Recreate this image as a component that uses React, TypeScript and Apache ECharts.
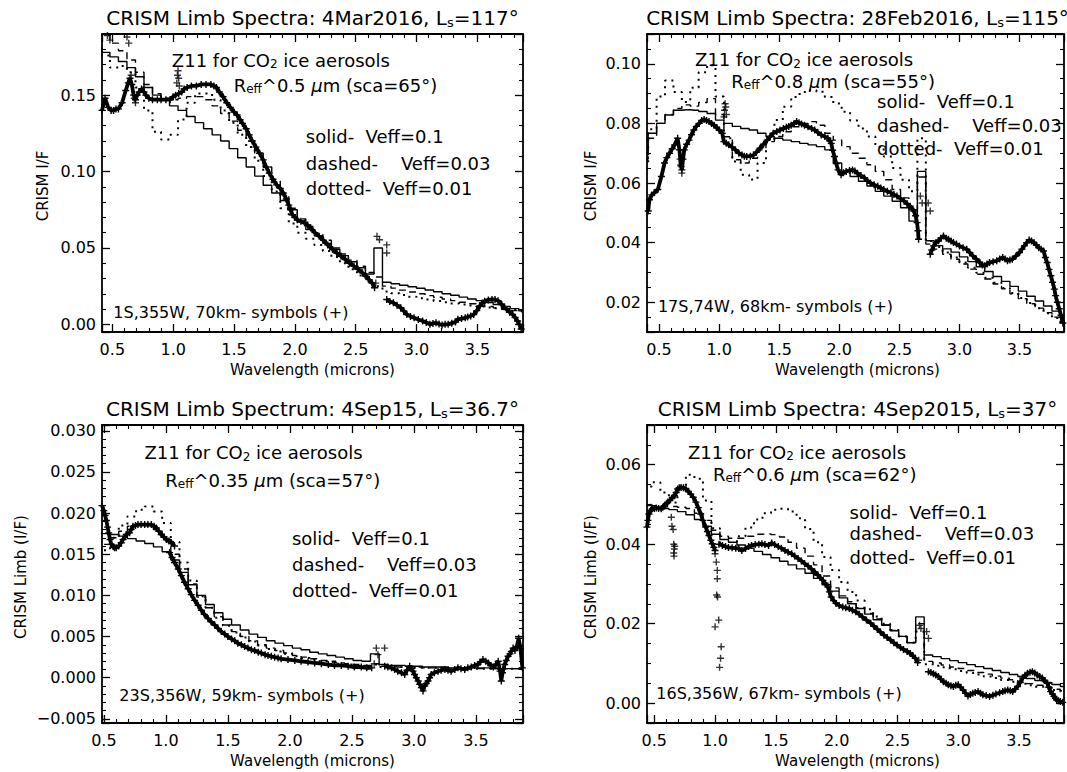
import React, { useEffect, useRef } from 'react';
import * as echarts from 'echarts';

const FONT = '"DejaVu Sans", sans-serif';
const PLUS = 'path://M4,0H6V4H10V6H6V10H4V6H0V4H4Z';

// Model wavelength grid (microns), shared by all model curves
const modelWl = [0.375, 0.445, 0.515, 0.585, 0.655, 0.725, 0.795, 0.865, 0.935, 1.005, 1.075, 1.145, 1.215, 1.285, 1.355, 1.425, 1.495, 1.565, 1.635, 1.705, 1.775, 1.845, 1.915, 1.985, 2.055, 2.125, 2.195, 2.265, 2.335, 2.405, 2.475, 2.545, 2.615, 2.685, 2.755, 2.825, 2.895, 2.965, 3.035, 3.105, 3.175, 3.245, 3.315, 3.385, 3.455, 3.525, 3.595, 3.665, 3.735, 3.805, 3.875];

// ---------- Panel 1: 4Mar2016 ----------
const p1Solid = [0.180, 0.178, 0.175, 0.172, 0.168, 0.162, 0.155, 0.150, 0.147, 0.143, 0.140, 0.136, 0.132, 0.128, 0.124, 0.120, 0.115, 0.109, 0.103, 0.097, 0.091, 0.086, 0.081, 0.075, 0.067, 0.062, 0.058, 0.053, 0.049, 0.045, 0.041, 0.037, 0.033, 0.050, 0.0276, 0.0266, 0.0256, 0.0246, 0.0236, 0.0225, 0.0213, 0.0200, 0.0190, 0.0178, 0.0166, 0.0155, 0.0143, 0.0130, 0.0117, 0.0103, 0.0088];
const p1Dashed = [0.190, 0.189, 0.184, 0.179, 0.173, 0.165, 0.157, 0.151, 0.148, 0.147, 0.148, 0.149, 0.149, 0.147, 0.143, 0.138, 0.133, 0.127, 0.120, 0.112, 0.103, 0.094, 0.085, 0.076, 0.069, 0.064, 0.059, 0.055, 0.050, 0.046, 0.042, 0.038, 0.034, 0.031, 0.0250, 0.0237, 0.0224, 0.0212, 0.0200, 0.0188, 0.0177, 0.0166, 0.0155, 0.0145, 0.0135, 0.0126, 0.0117, 0.0108, 0.0099, 0.0090, 0.0082];
const p1Dotted = [0.183, 0.176, 0.168, 0.169, 0.165, 0.155, 0.140, 0.126, 0.121, 0.124, 0.134, 0.145, 0.151, 0.151, 0.147, 0.140, 0.132, 0.124, 0.116, 0.107, 0.097, 0.087, 0.076, 0.066, 0.060, 0.056, 0.052, 0.048, 0.044, 0.040, 0.036, 0.032, 0.028, 0.025, 0.0215, 0.0203, 0.0192, 0.0181, 0.0171, 0.0162, 0.0153, 0.0145, 0.0137, 0.0130, 0.0123, 0.0117, 0.0111, 0.0105, 0.0100, 0.0095, 0.0090];
const p1ObsA = [[0.415,0.140],[0.44,0.148],[0.466,0.142],[0.49,0.140],[0.51,0.140],[0.53,0.141],[0.55,0.141],[0.58,0.145],[0.61,0.153],[0.63,0.158],[0.645,0.161],[0.66,0.157],[0.675,0.150],[0.69,0.147],[0.705,0.150],[0.72,0.152],[0.74,0.154],[0.76,0.152],[0.775,0.150],[0.80,0.148],[0.83,0.147],[0.87,0.147],[0.90,0.147],[0.94,0.147],[0.975,0.147],[1.00,0.149],[1.02,0.150],[1.045,0.151],[1.07,0.152],[1.09,0.154],[1.115,0.155],[1.15,0.156],[1.19,0.156],[1.23,0.157],[1.27,0.157],[1.31,0.157],[1.335,0.156],[1.355,0.155],[1.38,0.152],[1.41,0.149],[1.44,0.145],[1.47,0.142],[1.50,0.139],[1.525,0.137],[1.55,0.134],[1.57,0.1315],[1.60,0.128],[1.625,0.124],[1.65,0.120],[1.68,0.116],[1.71,0.112],[1.74,0.1076],[1.765,0.103],[1.79,0.099],[1.82,0.095],[1.85,0.0913],[1.88,0.089],[1.905,0.086],[1.93,0.082],[1.95,0.078],[1.965,0.075],[1.98,0.0717],[2.0,0.070],[2.02,0.0685],[2.05,0.0675],[2.08,0.0663],[2.105,0.065],[2.13,0.063],[2.165,0.060],[2.20,0.0576],[2.235,0.055],[2.27,0.052],[2.31,0.049],[2.345,0.0467],[2.38,0.0445],[2.415,0.0424],[2.45,0.040],[2.486,0.038],[2.52,0.036],[2.556,0.0337],[2.585,0.0315],[2.61,0.0293],[2.635,0.027],[2.655,0.024]];
const p1ObsB = [[2.755,0.0163],[2.78,0.015],[2.81,0.0141],[2.84,0.0125],[2.87,0.0109],[2.895,0.0087],[2.92,0.0065],[2.95,0.0052],[2.98,0.0043],[3.015,0.0032],[3.05,0.0022],[3.08,0.0012],[3.11,0.0],[3.135,0.0006],[3.16,0.001],[3.185,0.0002],[3.21,-0.0004],[3.235,0.0],[3.26,0.0],[3.29,0.0008],[3.32,0.0015],[3.34,0.0033],[3.37,0.0038],[3.40,0.0043],[3.42,0.0048],[3.445,0.0055],[3.47,0.0065],[3.495,0.009],[3.52,0.012],[3.54,0.014],[3.56,0.0152],[3.59,0.016],[3.62,0.0163],[3.645,0.0162],[3.67,0.0155],[3.70,0.013],[3.72,0.0115],[3.74,0.0098],[3.765,0.008],[3.79,0.0065],[3.81,0.0045],[3.83,0.0022],[3.845,0.0],[3.86,-0.003]];
const p1Spikes = [[0.46,0.189],[0.48,0.186],[0.62,0.188],[0.635,0.184],[0.655,0.163],[0.68,0.148],[0.69,0.145],[1.03,0.158],[1.035,0.163],[1.04,0.166],[1.045,0.161],[1.05,0.156],[2.665,0.027],[2.675,0.0576],[2.695,0.0554],[2.755,0.052],[2.755,0.0467]];

// ---------- Panel 2: 28Feb2016 ----------
const p2Solid = [0.070, 0.0767, 0.080, 0.0828, 0.0844, 0.0846, 0.0844, 0.084, 0.0833, 0.0811, 0.080, 0.079, 0.0783, 0.0778, 0.0767, 0.0756, 0.075, 0.0744, 0.0739, 0.0733, 0.0728, 0.0722, 0.0711, 0.0667, 0.0639, 0.0622, 0.0606, 0.059, 0.0572, 0.0556, 0.0539, 0.0517, 0.0472, 0.0639, 0.0406, 0.039, 0.0379, 0.0368, 0.0352, 0.0336, 0.0319, 0.0303, 0.0286, 0.027, 0.0253, 0.0237, 0.022, 0.0204, 0.0187, 0.017, 0.0154];
const p2Dashed = [0.068, 0.075, 0.080, 0.083, 0.085, 0.0862, 0.0858, 0.087, 0.0883, 0.083, 0.0755, 0.0678, 0.0667, 0.0683, 0.0711, 0.0739, 0.0756, 0.0772, 0.0789, 0.080, 0.0806, 0.0794, 0.0767, 0.0744, 0.0722, 0.070, 0.0683, 0.0661, 0.0639, 0.0611, 0.0578, 0.055, 0.051, 0.062, 0.0395, 0.0378, 0.0361, 0.0344, 0.0328, 0.0311, 0.0294, 0.0278, 0.0261, 0.0245, 0.0228, 0.0212, 0.0195, 0.018, 0.0165, 0.015, 0.0138];
const p2Dotted = [0.066, 0.078, 0.089, 0.0944, 0.0905, 0.0872, 0.092, 0.0972, 0.0995, 0.089, 0.075, 0.0672, 0.0628, 0.0612, 0.0667, 0.0744, 0.0811, 0.0856, 0.0889, 0.0905, 0.0911, 0.0906, 0.0889, 0.0867, 0.0839, 0.081, 0.0783, 0.0756, 0.0722, 0.0689, 0.065, 0.0611, 0.0572, 0.075, 0.0405, 0.0385, 0.0367, 0.035, 0.0333, 0.0316, 0.0299, 0.0282, 0.0265, 0.0248, 0.0231, 0.0214, 0.0197, 0.018, 0.0163, 0.0147, 0.0132];
const p2ObsA = [[0.41,0.0506],[0.42,0.0544],[0.44,0.056],[0.46,0.0567],[0.49,0.0578],[0.52,0.0622],[0.546,0.0667],[0.565,0.0685],[0.587,0.070],[0.61,0.0715],[0.63,0.0728],[0.655,0.075],[0.67,0.0711],[0.68,0.066],[0.69,0.0644],[0.70,0.068],[0.71,0.0711],[0.73,0.073],[0.75,0.0744],[0.77,0.0762],[0.79,0.0778],[0.81,0.079],[0.834,0.080],[0.855,0.081],[0.875,0.0813],[0.895,0.081],[0.916,0.0806],[0.937,0.080],[0.958,0.0794],[0.98,0.0786],[1.0,0.0778],[1.026,0.0767],[1.04,0.0739],[1.06,0.0733],[1.08,0.0728],[1.11,0.072],[1.136,0.0711],[1.165,0.070],[1.19,0.0694],[1.21,0.069],[1.23,0.0689],[1.26,0.069],[1.287,0.0694],[1.31,0.0703],[1.34,0.0717],[1.37,0.073],[1.40,0.0744],[1.425,0.0756],[1.45,0.0767],[1.48,0.0773],[1.507,0.0778],[1.535,0.0783],[1.56,0.0787],[1.58,0.079],[1.60,0.0794],[1.625,0.080],[1.645,0.0806],[1.665,0.0802],[1.686,0.0798],[1.71,0.0794],[1.74,0.0789],[1.77,0.0783],[1.795,0.0778],[1.82,0.077],[1.85,0.0761],[1.88,0.0756],[1.905,0.075],[1.92,0.0742],[1.933,0.0733],[1.945,0.071],[1.96,0.0689],[1.975,0.0665],[1.99,0.0644],[2.015,0.0628],[2.035,0.0634],[2.057,0.0639],[2.085,0.0642],[2.11,0.0644],[2.13,0.064],[2.15,0.0633],[2.18,0.0625],[2.21,0.0617],[2.235,0.0608],[2.26,0.060],[2.29,0.0594],[2.32,0.0589],[2.345,0.0583],[2.37,0.0578],[2.40,0.0572],[2.43,0.0567],[2.455,0.0561],[2.48,0.0556],[2.51,0.0548],[2.54,0.0539],[2.565,0.053],[2.59,0.0522],[2.62,0.0506],[2.635,0.049],[2.647,0.0467],[2.655,0.044],[2.66,0.0411]];
const p2ObsB = [[2.757,0.0361],[2.77,0.0375],[2.785,0.0389],[2.805,0.040],[2.826,0.0406],[2.845,0.0415],[2.867,0.0422],[2.89,0.0415],[2.908,0.0411],[2.93,0.0405],[2.95,0.040],[2.975,0.0395],[3.0,0.0389],[3.03,0.0383],[3.06,0.0378],[3.085,0.0367],[3.11,0.0356],[3.14,0.0345],[3.17,0.0333],[3.19,0.0325],[3.21,0.0322],[3.23,0.0328],[3.25,0.0333],[3.28,0.0336],[3.31,0.0339],[3.335,0.0345],[3.36,0.035],[3.38,0.0345],[3.40,0.0339],[3.42,0.0342],[3.44,0.0344],[3.47,0.0355],[3.50,0.0367],[3.52,0.0378],[3.54,0.0389],[3.56,0.040],[3.58,0.0409],[3.60,0.0405],[3.62,0.040],[3.64,0.0392],[3.66,0.0383],[3.68,0.0378],[3.70,0.0372],[3.715,0.035],[3.73,0.0333],[3.745,0.031],[3.76,0.0289],[3.775,0.0267],[3.79,0.0244],[3.80,0.0222],[3.815,0.020],[3.83,0.0178],[3.845,0.0156],[3.86,0.013]];
const p2Spikes = [[1.04,0.0822],[1.045,0.0844],[1.05,0.0866],[1.055,0.0855],[1.06,0.083],[0.675,0.068],[0.685,0.0655],[0.69,0.0633],[2.675,0.0556],[2.69,0.0533],[2.74,0.0533],[2.757,0.0506]];

// ---------- Panel 3: 4Sep15 ----------
const p3Solid = [0.0176, 0.0176, 0.0175, 0.0174, 0.0172, 0.0169, 0.0166, 0.0163, 0.0159, 0.0153, 0.0143, 0.0128, 0.0113, 0.0100, 0.0089, 0.0079, 0.0071, 0.0064, 0.0058, 0.0053, 0.0049, 0.0045, 0.0042, 0.0039, 0.0036, 0.0034, 0.0031, 0.0029, 0.0027, 0.0025, 0.0023, 0.0021, 0.0020, 0.0029, 0.0016, 0.0015, 0.0015, 0.0014, 0.0014, 0.0013, 0.0013, 0.0013, 0.0012, 0.0012, 0.0012, 0.0012, 0.0012, 0.0011, 0.0011, 0.0011, 0.0011];
const p3Dashed = [0.0152, 0.0155, 0.0162, 0.017, 0.0178, 0.0184, 0.0186, 0.0185, 0.018, 0.0168, 0.015, 0.0132, 0.0114, 0.0098, 0.0085, 0.0074, 0.0064, 0.0056, 0.005, 0.0045, 0.004, 0.0036, 0.0033, 0.003, 0.0027, 0.0025, 0.0023, 0.0021, 0.002, 0.0018, 0.0017, 0.0016, 0.0015, 0.0017, 0.0014, 0.0014, 0.0013, 0.0013, 0.0013, 0.0012, 0.0012, 0.0012, 0.0012, 0.0012, 0.0011, 0.0011, 0.0011, 0.0011, 0.0011, 0.0011, 0.0011];
const p3Dotted = [0.014, 0.0145, 0.0155, 0.017, 0.0185, 0.0196, 0.0204, 0.0208, 0.0202, 0.0188, 0.0165, 0.014, 0.0118, 0.0099, 0.0085, 0.0073, 0.0063, 0.0055, 0.0049, 0.0044, 0.0039, 0.0035, 0.0032, 0.0029, 0.0026, 0.0024, 0.0022, 0.002, 0.0019, 0.0017, 0.0016, 0.0015, 0.0014, 0.0016, 0.0013, 0.0013, 0.0013, 0.0012, 0.0012, 0.0012, 0.0012, 0.0012, 0.0011, 0.0011, 0.0011, 0.0011, 0.0011, 0.0011, 0.0011, 0.0011, 0.0011];
const p3ObsA = [[0.485,0.0209],[0.50,0.0203],[0.51,0.0197],[0.52,0.0191],[0.53,0.0183],[0.539,0.0176],[0.55,0.0168],[0.56,0.0162],[0.575,0.0159],[0.587,0.0158],[0.60,0.0158],[0.62,0.016],[0.64,0.0164],[0.655,0.0168],[0.68,0.0174],[0.708,0.0176],[0.72,0.018],[0.735,0.0184],[0.755,0.0185],[0.775,0.0186],[0.80,0.0186],[0.829,0.0186],[0.855,0.0186],[0.883,0.0186],[0.905,0.0184],[0.923,0.0182],[0.943,0.0178],[0.963,0.0174],[0.985,0.0171],[1.004,0.0168],[1.025,0.0166],[1.044,0.0164],[1.07,0.016]];
const p3ObsB = [[1.03,0.0152],[1.05,0.0146],[1.07,0.014],[1.10,0.0132],[1.125,0.0124],[1.15,0.0116],[1.18,0.0108],[1.205,0.0101],[1.232,0.0094],[1.26,0.0088],[1.286,0.0082],[1.31,0.0077],[1.34,0.0072],[1.365,0.0068],[1.394,0.0064],[1.42,0.006],[1.447,0.0056],[1.475,0.0053],[1.50,0.005],[1.53,0.0047],[1.555,0.0045],[1.58,0.0042],[1.609,0.004],[1.635,0.0038],[1.662,0.0036],[1.69,0.0034],[1.716,0.0033],[1.745,0.0031],[1.77,0.003],[1.80,0.0028],[1.824,0.0027],[1.85,0.0026],[1.877,0.0025],[1.905,0.0024],[1.93,0.0023],[1.985,0.0022],[2.04,0.0021],[2.09,0.002],[2.146,0.0019],[2.20,0.0018],[2.254,0.0017],[2.31,0.0016],[2.36,0.0015],[2.415,0.0015],[2.47,0.0014],[2.52,0.0013],[2.576,0.0013],[2.62,0.0012],[2.66,0.0012]];
const p3ObsC = [[2.765,0.0014],[2.79,0.0013],[2.82,0.0012],[2.845,0.001],[2.87,0.0008],[2.90,0.0006],[2.926,0.0004],[2.945,0.0009],[2.966,0.0014],[2.98,0.0011],[2.993,0.0008],[3.005,0.0004],[3.02,0.0],[3.035,-0.0004],[3.047,-0.0008],[3.06,-0.0012],[3.074,-0.0016],[3.087,-0.001],[3.10,-0.0007],[3.114,-0.0004],[3.127,0.0],[3.14,0.0004],[3.165,0.0006],[3.195,0.0008],[3.22,0.0009],[3.25,0.001],[3.275,0.0009],[3.30,0.0008],[3.33,0.001],[3.355,0.0012],[3.38,0.0011],[3.41,0.001],[3.435,0.0012],[3.463,0.0013],[3.49,0.0015],[3.517,0.0016],[3.535,0.0019],[3.557,0.0022],[3.58,0.002],[3.60,0.0018],[3.62,0.0015],[3.64,0.0013],[3.66,0.0016],[3.68,0.002],[3.695,0.0008],[3.705,-0.0004],[3.715,0.0006],[3.732,0.0016],[3.745,0.0021],[3.76,0.0026],[3.775,0.0029],[3.786,0.0032],[3.80,0.0036],[3.815,0.0033],[3.83,0.0038],[3.845,0.0048],[3.86,0.0035],[3.875,0.0012]];
const p3Spikes = [[2.697,0.0036],[2.764,0.0036],[2.71,0.0028],[2.68,0.0017]];

// ---------- Panel 4: 4Sep2015 ----------
const p4Solid = [0.0497, 0.0497, 0.0493, 0.049, 0.0487, 0.0482, 0.0474, 0.0462, 0.0445, 0.0425, 0.0412, 0.0405, 0.0398, 0.039, 0.0382, 0.0374, 0.0366, 0.0357, 0.0348, 0.0338, 0.0327, 0.0314, 0.0298, 0.0282, 0.0265, 0.025, 0.0238, 0.0224, 0.021, 0.0196, 0.0182, 0.0168, 0.0152, 0.0217, 0.0121, 0.0117, 0.0112, 0.0107, 0.0102, 0.0097, 0.0092, 0.0087, 0.0082, 0.0077, 0.0072, 0.0067, 0.0062, 0.0057, 0.0052, 0.0047, 0.0042];
const p4Dashed = [0.050, 0.050, 0.0497, 0.0495, 0.0495, 0.0493, 0.049, 0.0478, 0.046, 0.0435, 0.042, 0.0415, 0.0415, 0.042, 0.0425, 0.0426, 0.0424, 0.0418, 0.0405, 0.039, 0.037, 0.0348, 0.032, 0.029, 0.027, 0.0255, 0.024, 0.0226, 0.0212, 0.0197, 0.0183, 0.0168, 0.0153, 0.020, 0.0105, 0.0101, 0.0096, 0.0091, 0.0087, 0.0082, 0.0077, 0.0073, 0.0068, 0.0063, 0.0059, 0.0054, 0.0049, 0.0045, 0.004, 0.0035, 0.0031];
const p4Dotted = [0.052, 0.0545, 0.0556, 0.053, 0.0505, 0.0545, 0.0575, 0.0565, 0.051, 0.044, 0.0395, 0.0392, 0.042, 0.0442, 0.0462, 0.0478, 0.0487, 0.0489, 0.0482, 0.0465, 0.0438, 0.0405, 0.0368, 0.0335, 0.0305, 0.028, 0.0258, 0.0236, 0.0218, 0.02, 0.0184, 0.0168, 0.0152, 0.018, 0.0098, 0.0094, 0.009, 0.0085, 0.0081, 0.0076, 0.0072, 0.0067, 0.0063, 0.0058, 0.0054, 0.0049, 0.0045, 0.0041, 0.0037, 0.0033, 0.0029];
const p4ObsA = [[0.44,0.0443],[0.448,0.046],[0.456,0.0476],[0.47,0.0485],[0.483,0.0489],[0.50,0.049],[0.516,0.0491],[0.535,0.049],[0.557,0.0489],[0.57,0.0493],[0.584,0.0497],[0.60,0.0502],[0.611,0.0506],[0.63,0.0511],[0.648,0.0517],[0.665,0.0522],[0.68,0.053],[0.692,0.0539],[0.705,0.0542],[0.72,0.0543],[0.74,0.0542],[0.76,0.0539],[0.78,0.0533],[0.80,0.0526],[0.82,0.0518],[0.842,0.0506],[0.862,0.0492],[0.882,0.0476],[0.90,0.046],[0.923,0.0443],[0.937,0.0432],[0.95,0.0422],[0.965,0.041],[0.977,0.0401],[0.99,0.0392],[1.0,0.0384]];
const p4ObsB = [[1.032,0.040],[1.06,0.0397],[1.086,0.0394],[1.11,0.0392],[1.14,0.0391],[1.17,0.039],[1.195,0.0389],[1.22,0.0384],[1.25,0.0389],[1.276,0.0394],[1.30,0.0397],[1.33,0.0399],[1.36,0.04],[1.385,0.0401],[1.41,0.0399],[1.44,0.0397],[1.466,0.0403],[1.49,0.0399],[1.52,0.0394],[1.545,0.039],[1.575,0.0384],[1.60,0.038],[1.63,0.0376],[1.655,0.037],[1.683,0.0364],[1.71,0.0358],[1.737,0.0351],[1.765,0.0345],[1.792,0.0338],[1.82,0.033],[1.846,0.0322],[1.865,0.0316],[1.887,0.0309],[1.905,0.0302],[1.928,0.0292],[1.94,0.028],[1.955,0.0267],[1.975,0.0258],[1.995,0.0251],[2.02,0.0246],[2.05,0.0242],[2.075,0.024],[2.104,0.0238],[2.13,0.0234],[2.158,0.023],[2.185,0.0224],[2.212,0.0217],[2.245,0.0209],[2.28,0.0201],[2.305,0.0194],[2.335,0.0186],[2.36,0.0179],[2.39,0.0171],[2.415,0.0165],[2.443,0.0159],[2.47,0.0152],[2.497,0.0146],[2.525,0.014],[2.55,0.0135],[2.58,0.013],[2.606,0.0125],[2.625,0.012],[2.647,0.0113],[2.666,0.0102]];
const p4ObsC = [[2.755,0.0079],[2.775,0.0077],[2.796,0.0074],[2.815,0.0071],[2.837,0.0067],[2.858,0.006],[2.878,0.0054],[2.9,0.005],[2.918,0.0046],[2.94,0.0044],[2.96,0.0042],[2.98,0.0045],[3.0,0.0046],[3.02,0.004],[3.04,0.0033],[3.06,0.0025],[3.08,0.0018],[3.10,0.0022],[3.12,0.0025],[3.14,0.0027],[3.163,0.0029],[3.183,0.0025],[3.203,0.0021],[3.23,0.0019],[3.258,0.0017],[3.285,0.002],[3.31,0.0023],[3.34,0.0026],[3.366,0.0029],[3.385,0.0031],[3.407,0.0033],[3.428,0.0031],[3.448,0.0029],[3.468,0.0035],[3.488,0.0042],[3.51,0.0052],[3.53,0.0063],[3.55,0.007],[3.57,0.0075],[3.59,0.0078],[3.61,0.0079],[3.63,0.0076],[3.65,0.0071],[3.67,0.0067],[3.692,0.0063],[3.712,0.0057],[3.733,0.005],[3.745,0.004],[3.76,0.0029],[3.775,0.0023],[3.787,0.0017],[3.80,0.0012],[3.81,0.0008],[3.825,0.0006],[3.84,0.0004],[3.86,0.0002]];
const p4Spikes = [[0.64,0.0468],[0.645,0.0445],[0.655,0.0437],[0.66,0.040],[0.665,0.0388],[0.66,0.0378],[0.668,0.0395],[0.662,0.037],[1.0,0.0376],[1.01,0.0355],[1.018,0.0334],[1.018,0.0313],[1.013,0.0272],[1.02,0.0267],[1.0,0.0192],[1.03,0.0209],[1.05,0.0142],[1.045,0.0113],[1.037,0.009],[2.682,0.0196],[2.693,0.0188],[2.74,0.018],[2.755,0.0163],[2.675,0.0108]];

// ---------- Texts ----------
const titles = [
  'CRISM Limb Spectra: 4Mar2016, L{s|s}=117°',
  'CRISM Limb Spectra: 28Feb2016, L{s|s}=115°',
  'CRISM Limb Spectrum: 4Sep15, L{s|s}=36.7°',
  'CRISM Limb Spectra: 4Sep2015, L{s|s}=37°',
];
const yNames = ['CRISM I/F', 'CRISM I/F', 'CRISM Limb (I/F)', 'CRISM Limb (I/F)'];
const xName = 'Wavelength (microns)';
const aerosolLine = 'Z11 for CO{s|2} ice aerosols';
const reffLines = [
  'R{s|eff}^0.5 {i|μ}m (sca=65°)',
  'R{s|eff}^0.8 {i|μ}m (sca=55°)',
  'R{s|eff}^0.35 {i|μ}m (sca=57°)',
  'R{s|eff}^0.6 {i|μ}m (sca=62°)',
];
const legendLines = ['solid-  Veff=0.1', 'dashed-    Veff=0.03', 'dotted-  Veff=0.01'];
const siteLines = ['1S,355W, 70km- symbols (+)', '17S,74W, 68km- symbols (+)', '23S,356W, 59km- symbols (+)', '16S,356W, 67km- symbols (+)'];

// Layout (pixels) and axis settings per panel
const panels = [
  { box: { left: 102, top: 34, width: 421, height: 298 }, xr: [0.415, 3.875], yr: [-0.005, 0.19], ySplit: 4, yStep: 0.05, yMinor: 5, yDec: 2, yNameX: 43,
    solid: p1Solid, dashed: p1Dashed, dotted: p1Dotted, obs: [p1ObsA, p1ObsB], spikes: p1Spikes,
    noteAt: { aer: [0.989, 0.1728], reff: [1.497, 0.1565], leg: [2.09, 0.1228, 0.1054, 0.0891], site: [0.508, 0.0076] } },
  { box: { left: 647, top: 34, width: 421, height: 298 }, xr: [0.40, 3.87], yr: [0.01, 0.11], ySplit: 5, yStep: 0.02, yMinor: 4, yDec: 2, yNameX: 591,
    solid: p2Solid, dashed: p2Dashed, dotted: p2Dotted, obs: [p2ObsA, p2ObsB], spikes: p2Spikes,
    noteAt: { aer: [0.796, 0.1013], reff: [1.095, 0.0942], leg: [2.296, 0.0872, 0.0794, 0.0717], site: [0.49, 0.0187] } },
  { box: { left: 102, top: 425, width: 421, height: 298 }, xr: [0.485, 3.88], yr: [-0.0055, 0.0307], ySplit: 7, yStep: 0.005, yMinor: 5, yDec: 3, yNameX: 21,
    solid: p3Solid, dashed: p3Dashed, dotted: p3Dotted, obs: [p3ObsA, p3ObsB, p3ObsC], spikes: p3Spikes,
    noteAt: { aer: [0.828, 0.0273], reff: [0.995, 0.0240], leg: [2.017, 0.01697, 0.01381, 0.01065], site: [0.625, -0.0021] } },
  { box: { left: 647, top: 425, width: 421, height: 298 }, xr: [0.44, 3.87], yr: [-0.005, 0.07], ySplit: 4, yStep: 0.02, yMinor: 4, yDec: 2, yNameX: 591,
    solid: p4Solid, dashed: p4Dashed, dotted: p4Dotted, obs: [p4ObsA, p4ObsB, p4ObsC], spikes: p4Spikes,
    noteAt: { aer: [0.774, 0.0632], reff: [0.977, 0.0576], leg: [2.09, 0.048, 0.0426, 0.0366], site: [0.516, 0.0025] } },
];

function rich(size: number) {
  const lh = Math.round(size * 1.12);
  const sub = Math.round(size * 0.64);
  return {
    s: { fontSize: sub, fontFamily: FONT, fill: '#000', color: '#000', verticalAlign: 'bottom', lineHeight: Math.round(size * 0.45) },
    i: { fontSize: size, fontFamily: FONT, fontStyle: 'italic', fill: '#000', color: '#000', lineHeight: lh },
  };
}

function txt(x: number, y: number, text: string, size: number, align = 'left', rotation = 0) {
  return {
    type: 'text', x, y, rotation, z: 100, silent: true,
    style: {
      text, fill: '#000', font: `${size}px ${FONT}`, fontSize: size, fontFamily: FONT,
      textAlign: align, align, textVerticalAlign: 'middle', verticalAlign: 'middle',
      lineHeight: Math.round(size * 1.12), rich: rich(size),
    },
  };
}

function onStep(v: number, step: number) {
  const r = v / step;
  return Math.abs(r - Math.round(r)) < 1e-6;
}

function buildOption() {
  const grid: any[] = [], xAxis: any[] = [], yAxis: any[] = [], series: any[] = [], graphic: any[] = [];
  panels.forEach((p, i) => {
    const b = p.box;
    const px = (x: number) => b.left + ((x - p.xr[0]) / (p.xr[1] - p.xr[0])) * b.width;
    const py = (y: number) => b.top + ((p.yr[1] - y) / (p.yr[1] - p.yr[0])) * b.height;
    grid.push({ left: b.left, top: b.top, width: b.width, height: b.height, containLabel: false, show: false });
    const axisLine = { show: true, onZero: false, lineStyle: { color: '#000', width: 1.8 } };
    const axisTick = { show: true, inside: true, length: 8, lineStyle: { color: '#000', width: 1.3 } };
    const minor = (n: number) => ({ show: true, splitNumber: n, length: 4, lineStyle: { color: '#000', width: 1.1 } });
    const xb = { type: 'value', gridIndex: i, min: p.xr[0], max: p.xr[1], splitNumber: 7, axisLine, axisTick, minorTick: minor(5), splitLine: { show: false }, minorSplitLine: { show: false } };
    xAxis.push({ ...xb, position: 'bottom', axisLabel: { show: true, color: '#000', fontFamily: FONT, fontSize: 16, margin: 9,
      formatter: (v: number) => (onStep(v, 0.5) ? v.toFixed(1) : '') } });
    xAxis.push({ ...xb, position: 'top', axisLabel: { show: false } });
    const yb = { type: 'value', gridIndex: i, min: p.yr[0], max: p.yr[1], splitNumber: p.ySplit, axisLine, axisTick, minorTick: minor(p.yMinor), splitLine: { show: false }, minorSplitLine: { show: false } };
    yAxis.push({ ...yb, position: 'left', axisLabel: { show: true, color: '#000', fontFamily: FONT, fontSize: 16, margin: 6,
      formatter: (v: number) => {
        if (!onStep(v, p.yStep)) return '';
        const a = Math.abs(v) < 1e-12 ? 0 : v;
        const s = Math.abs(a).toFixed(p.yDec);
        return a < 0 ? '\u2212' + s : s;
      } } });
    yAxis.push({ ...yb, position: 'right', axisLabel: { show: false } });

    const xi = 2 * i, yi = 2 * i;
    p.obs.forEach((seg) => series.push({
      type: 'line', xAxisIndex: xi, yAxisIndex: yi, data: seg, showSymbol: true, symbol: PLUS, symbolSize: 7,
      itemStyle: { color: '#000' }, lineStyle: { color: '#000', width: 3.8 }, z: 2, silent: true, clip: true,
    }));
    series.push({ type: 'scatter', xAxisIndex: xi, yAxisIndex: yi, data: p.spikes, symbol: PLUS, symbolSize: 7, itemStyle: { color: '#000' }, z: 2, silent: true, clip: true });
    const model = (vals: number[], lineStyle: any) => series.push({
      type: 'line', xAxisIndex: xi, yAxisIndex: yi, step: 'middle', showSymbol: false, silent: true, clip: true, z: 3,
      data: modelWl.map((w, k) => [w, vals[k]]), lineStyle: { color: '#000', ...lineStyle },
    });
    model(p.solid, { width: 1.4, type: 'solid' });
    model(p.dashed, { width: 1.4, type: [7, 5] });
    model(p.dotted, { width: 2, type: [2, 5] });

    // texts
    graphic.push(txt(b.left + b.width / 2, b.top - 16, titles[i], 20, 'center'));
    graphic.push(txt(b.left + b.width / 2, b.top + b.height + 38, xName, 15, 'center'));
    graphic.push(txt(p.yNameX, b.top + b.height / 2 + 3, yNames[i], 15, 'center', Math.PI / 2));
    const n = p.noteAt;
    graphic.push(txt(px(n.aer[0]), py(n.aer[1]), aerosolLine, 18));
    graphic.push(txt(px(n.reff[0]), py(n.reff[1]), reffLines[i], 18));
    legendLines.forEach((l, j) => graphic.push(txt(px(n.leg[0]), py(n.leg[j + 1]), l, 18)));
    graphic.push(txt(px(n.site[0]), py(n.site[1]), siteLines[i], 16));
  });
  return { animation: false, backgroundColor: '#fff', grid, xAxis, yAxis, series, graphic };
}

export default function App() {
  const ref = useRef<HTMLDivElement>(null);
  useEffect(() => {
    document.body.style.margin = '0';
    const chart = echarts.init(ref.current!, null, { renderer: 'svg' });
    chart.setOption(buildOption() as any);
    return () => chart.dispose();
  }, []);
  return <div ref={ref} style={{ position: 'absolute', left: 0, top: 0, width: 1067, height: 772, background: '#fff' }} />;
}
